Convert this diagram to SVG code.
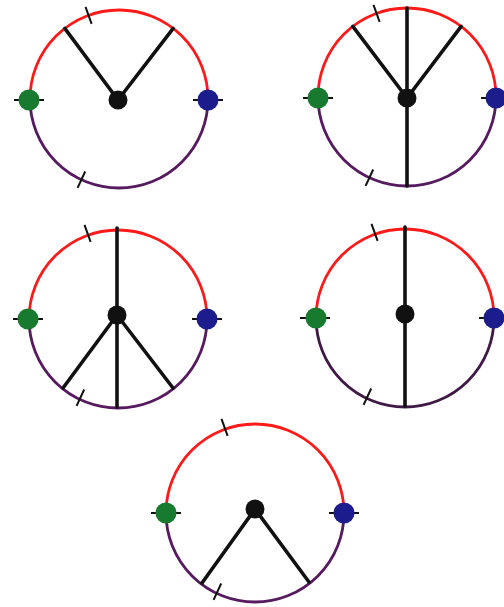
<svg xmlns="http://www.w3.org/2000/svg" width="504" height="607" viewBox="0 0 504 607">
<defs>
<style>
.red{fill:none;stroke:#ff1a1a;stroke-width:2.8}
.pur{fill:none;stroke:#561a5e;stroke-width:2.8}
.spoke{stroke:#111;stroke-width:3.6;stroke-linecap:round}
.tick{stroke:#111;stroke-width:2}
.hub{fill:#111}
.g{fill:#177a2f}
.b{fill:#1c1c8c}
</style>
</defs>
<rect width="504" height="607" fill="#ffffff"/>

<!-- Figure 1 -->
<g id="fig1" transform="translate(119,99)">
  <g id="fig1-ring">
    <path class="red" d="M-89,0 A89,89 0 0 1 89,0"/>
    <path class="pur" d="M89,0 A89,89 0 0 1 -89,0"/>
    <line class="tick" x1="-27.4" y1="-75.2" x2="-33.5" y2="-92.1"/>
    <line class="tick" x1="-33.8" y1="72.5" x2="-41.4" y2="88.8"/>
  </g>
  <g id="fig1-connectors">
    <line class="spoke" x1="-1" y1="1" x2="-54.2" y2="-70.6"/>
    <line class="spoke" x1="-1" y1="1" x2="54.2" y2="-70.6"/>
  </g>
  <g id="fig1-left"><line class="tick" x1="-105" y1="1" x2="-75" y2="1"/><circle class="g" cx="-90" cy="1" r="10.5"/></g>
  <g id="fig1-right"><line class="tick" x1="74" y1="1" x2="104" y2="1"/><circle class="b" cx="89" cy="1" r="10.5"/></g>
  <g id="fig1-hub"><circle class="hub" cx="-1" cy="1" r="9.5"/></g>
</g>

<!-- Figure 2 -->
<g id="fig2" transform="translate(407,97)">
  <g id="fig2-ring">
    <path class="red" d="M-89,0 A89,89 0 0 1 89,0"/>
    <path class="pur" d="M89,0 A89,89 0 0 1 -89,0"/>
    <line class="tick" x1="-27.4" y1="-75.2" x2="-33.5" y2="-92.1"/>
    <line class="tick" x1="-33.8" y1="72.5" x2="-41.4" y2="88.8"/>
  </g>
  <g id="fig2-connectors">
    <line class="spoke" x1="0" y1="1" x2="0" y2="-89"/>
    <line class="spoke" x1="0" y1="1" x2="0" y2="89"/>
    <line class="spoke" x1="0" y1="1" x2="-54.2" y2="-70.6"/>
    <line class="spoke" x1="0" y1="1" x2="54.2" y2="-70.6"/>
  </g>
  <g id="fig2-left"><line class="tick" x1="-104" y1="1" x2="-74" y2="1"/><circle class="g" cx="-89" cy="1" r="10.5"/></g>
  <g id="fig2-right"><line class="tick" x1="74" y1="1" x2="104" y2="1"/><circle class="b" cx="89" cy="1" r="10.5"/></g>
  <g id="fig2-hub"><circle class="hub" cx="0" cy="1" r="9.5"/></g>
</g>

<!-- Figure 3 -->
<g id="fig3" transform="translate(118,317)">
  <g id="fig3-ring">
    <path class="red" d="M-89,2 A89,89 0 0 1 89,2"/>
    <path class="pur" d="M89,2 A89,89 0 0 1 -89,2"/>
    <line class="tick" x1="-27.4" y1="-75.2" x2="-33.5" y2="-92.1"/>
    <line class="tick" x1="-33.8" y1="72.5" x2="-41.4" y2="88.8"/>
  </g>
  <g id="fig3-connectors">
    <line class="spoke" x1="-1" y1="-2" x2="-1" y2="-89"/>
    <line class="spoke" x1="-1" y1="-2" x2="-1" y2="90"/>
    <line class="spoke" x1="-1" y1="-2" x2="-55" y2="71"/>
    <line class="spoke" x1="-1" y1="-2" x2="55" y2="71"/>
  </g>
  <g id="fig3-left"><line class="tick" x1="-105" y1="2" x2="-75" y2="2"/><circle class="g" cx="-90" cy="2" r="10.5"/></g>
  <g id="fig3-right"><line class="tick" x1="74" y1="2" x2="104" y2="2"/><circle class="b" cx="89" cy="2" r="10.5"/></g>
  <g id="fig3-hub"><circle class="hub" cx="-1" cy="-2" r="9.5"/></g>
</g>

<!-- Figure 4 -->
<g id="fig4" transform="translate(405,316)">
  <g id="fig4-ring">
    <path class="red" d="M-89,2 A89,89 0 0 1 89,2"/>
    <path class="pur" style="stroke:#3e1a44" d="M89,2 A89,89 0 0 1 -89,2"/>
    <line class="tick" x1="-27.4" y1="-75.2" x2="-33.5" y2="-92.1"/>
    <line class="tick" x1="-33.8" y1="72.5" x2="-41.4" y2="88.8"/>
  </g>
  <g id="fig4-connectors">
    <line class="spoke" x1="0" y1="-2" x2="0" y2="-89"/>
    <line class="spoke" x1="0" y1="-2" x2="0" y2="90"/>
  </g>
  <g id="fig4-left"><line class="tick" x1="-105" y1="2" x2="-75" y2="2"/><circle class="g" cx="-89" cy="2" r="10.5"/></g>
  <g id="fig4-right"><line class="tick" x1="74" y1="2" x2="104" y2="2"/><circle class="b" cx="89" cy="2" r="10.5"/></g>
  <g id="fig4-hub"><circle class="hub" cx="0" cy="-2" r="9.5"/></g>
</g>

<!-- Figure 5 -->
<g id="fig5" transform="translate(255,511)">
  <g id="fig5-ring">
    <path class="red" d="M-89,2 A89,89 0 0 1 89,2"/>
    <path class="pur" d="M89,2 A89,89 0 0 1 -89,2"/>
    <line class="tick" x1="-27.4" y1="-75.2" x2="-33.5" y2="-92.1"/>
    <line class="tick" x1="-33.8" y1="72.5" x2="-41.4" y2="88.8"/>
  </g>
  <g id="fig5-connectors">
    <line class="spoke" x1="0" y1="-2" x2="-53" y2="72"/>
    <line class="spoke" x1="0" y1="-2" x2="54" y2="71"/>
  </g>
  <g id="fig5-left"><line class="tick" x1="-104" y1="2" x2="-74" y2="2"/><circle class="g" cx="-89" cy="2" r="10.5"/></g>
  <g id="fig5-right"><line class="tick" x1="74" y1="2" x2="104" y2="2"/><circle class="b" cx="89" cy="2" r="10.5"/></g>
  <g id="fig5-hub"><circle class="hub" cx="0" cy="-2" r="9.5"/></g>
</g>
</svg>
